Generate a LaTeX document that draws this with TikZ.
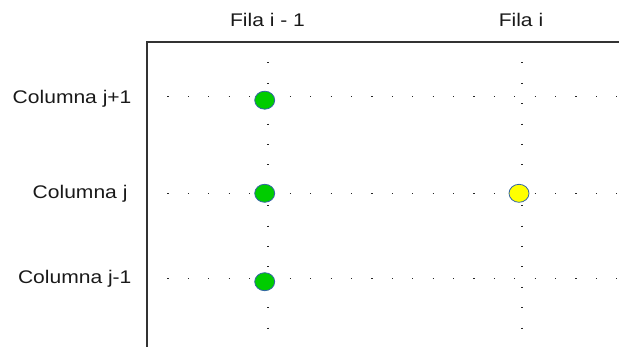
\documentclass[tikz,border=0pt]{standalone}
\usepackage{fontspec}
\setmainfont{Liberation Sans}
\usetikzlibrary{shapes.geometric}
\definecolor{verde}{HTML}{00CC00}
\definecolor{amarillo}{HTML}{FFFF00}
\definecolor{borde}{HTML}{3465A4}
\tikzset{
  puntoV/.style={ellipse,draw=borde,fill=verde,line width=0.8pt,minimum width=20pt,minimum height=18pt,inner sep=0pt},
  puntoA/.style={ellipse,draw=borde,fill=amarillo,line width=0.8pt,minimum width=20pt,minimum height=18pt,inner sep=0pt},
  etiq/.style={font=\fontsize{18.3}{21}\selectfont,inner sep=0pt,xscale=1.15,text=black!90},
  eje/.style={line width=1.3pt,draw=black!80},
  rejilla/.style={draw=black!85,line width=1.1pt,dash pattern=on 1.1pt off 19.3pt},
}

\begin{document}
\begin{tikzpicture}[x=1pt,y=-1pt]
  \useasboundingbox (0,0) rectangle (619,347);
  % rejilla de puntos
  \coordinate (esq) at (147,42);
  \foreach \y/\n in {96.7/r1,193.3/r0,278.3/r2}{
    \coordinate (\n a) at (147,\y); \coordinate (\n b) at (619,\y);
    \draw[rejilla] (\n a) -- (\n b);
  }
  \foreach \x/\n in {268/c1,522/c0}{
    \coordinate (\n a) at (\x,42); \coordinate (\n b) at (\x,347);
    \draw[rejilla] (\n a) -- (\n b);
  }
  % ejes
  \coordinate (ejeD) at (619,42); \coordinate (ejeB) at (147,347);
  \draw[eje] (ejeD) -- (esq) -- (ejeB);
  % puntos
  \node[puntoV] (v1) at (264.7,100.2) {};
  \node[puntoV] (v0) at (264.7,193.3) {};
  \node[puntoV] (v2) at (264.7,281.7) {};
  \node[puntoA] (a0) at (519,193.3) {};
  % etiquetas
  \node[etiq,anchor=base] (f1) at (267.5,26.7) {Fila i - 1};
  \node[etiq,anchor=base] (f0) at (521,26.7) {Fila i};
  \node[etiq,anchor=base east] (cj1) at (131.7,103.3) {Columna j+1};
  \node[etiq,anchor=base east] (cj0) at (127.7,198.3) {Columna j};
  \node[etiq,anchor=base east] (cj2) at (131.7,283.3) {Columna j-1};
\end{tikzpicture}
\end{document}
